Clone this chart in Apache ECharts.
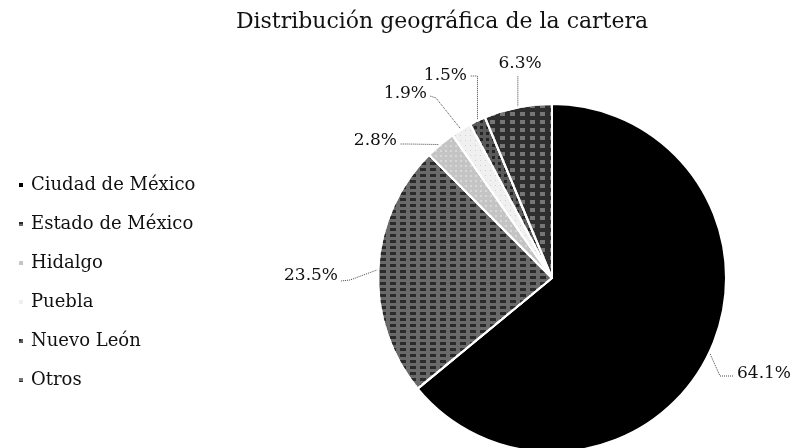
<!DOCTYPE html>
<html>
<head>
<meta charset="utf-8">
<script src="https://cdn.jsdelivr.net/npm/echarts@6/dist/echarts.min.js"></script>
<style>
  html, body { margin: 0; padding: 0; background: #fff; }
  #chart01 { width: 795px; height: 448px; }
</style>
</head>
<body>
<div id="chart01"></div>
<script>
    // datos de la cartera
    var categorias = ["Ciudad de México", "Estado de México", "Hidalgo", "Puebla", "Nuevo León", "Otros"];
    var porcentajes = [64.1, 23.5, 2.8, 1.9, 1.5, 6.3];
    var colores = ["#000000", "#6a6a6a", "#c4c4c4", "#f0f0f0", "#5a5a5a", "#2e2e2e"];

    // posición de cada etiqueta: [x, y, alineación]
    var posEtiquetas = [
        [737, 374, "left"],
        [338, 276, "right"],
        [397, 141, "right"],
        [427, 94, "right"],
        [467, 76, "right"],
        [520, 64, "center"]
    ];

    var decals = [
        null,
        { symbol: "rect", color: "rgba(0,0,0,0.6)", dashArrayX: [[6, 4]], dashArrayY: [3, 3], symbolSize: 1 },
        { symbol: "circle", color: "rgba(255,255,255,0.75)", dashArrayX: [[2, 3]], dashArrayY: [2, 3], symbolSize: 0.8 },
        { symbol: "circle", color: "rgba(120,120,120,0.6)", dashArrayX: [[1, 4]], dashArrayY: [1, 4], symbolSize: 0.8 },
        { symbol: "rect", color: "rgba(0,0,0,0.6)", dashArrayX: [[3, 3]], dashArrayY: [3, 3], symbolSize: 1 },
        { symbol: "rect", color: "rgba(150,150,150,0.7)", dashArrayX: [[5, 5]], dashArrayY: [4, 4], symbolSize: 1 }
    ];

    var datos = categorias.map(function (c, i) {
        var item = {
            name: c,
            value: porcentajes[i],
            itemStyle: { color: colores[i] }
        };
        if (decals[i]) item.itemStyle.decal = decals[i];
        return item;
    });

    var myChart01 = echarts.init(document.getElementById('chart01'));
    var option = {
        animation: false,
        title: {
            text: "Distribución geográfica de la cartera",
            left: 437,
            textAlign: "center",
            top: 6,
            textStyle: {
                fontFamily: "DejaVu Serif",
                fontWeight: "normal",
                fontSize: 22,
                color: "#111"
            }
        },
        legend: {
            orient: "vertical",
            left: 12,
            top: 171,
            itemWidth: 6,
            itemHeight: 6,
            itemGap: 21,
            icon: "rect",
            data: categorias,
            textStyle: {
                fontFamily: "DejaVu Serif",
                fontSize: 18,
                color: "#111",
                padding: [0, 0, 0, 2]
            }
        },
        series: [
            {
                name: "Cartera",
                type: "pie",
                center: [552, 278],
                radius: [0, 174],
                startAngle: 90,
                clockwise: true,
                itemStyle: {
                    borderColor: "#fff",
                    borderWidth: 2
                },
                label: {
                    show: true,
                    formatter: function (p) { return p.value.toFixed(1) + "%"; },
                    fontFamily: "DejaVu Serif",
                    fontSize: 17,
                    color: "#111",
                    overflow: "none",
                    width: 80
                },
                labelLine: {
                    show: true,
                    length: 14,
                    length2: 8,
                    lineStyle: { color: "#444", type: "dotted", width: 1 }
                },
                labelLayout: function (params) {
                    var p = posEtiquetas[params.dataIndex];
                    var x = p[0], y = p[1], al = p[2];
                    var p0 = params.labelLinePoints[0];
                    var pts;
                    if (al === "left") {
                        pts = [p0, [x - 17, y + 2], [x - 3, y + 2]];
                    } else if (al === "center") {
                        pts = [p0, [p0[0], y + 12], [p0[0], y + 12]];
                    } else if (params.dataIndex === 4) {
                        pts = [p0, [p0[0], y], [x + 3, y]];
                    } else if (params.dataIndex === 3) {
                        pts = [p0, [x + 9, y + 4], [x + 3, y + 2]];
                    } else if (params.dataIndex === 1) {
                        pts = [p0, [x + 12, y + 4], [x + 3, y + 5]];
                    } else {
                        pts = [p0, [x + 10, y + 3], [x + 3, y + 3]];
                    }
                    return {
                        x: x,
                        y: y,
                        align: al,
                        verticalAlign: "middle",
                        labelLinePoints: pts
                    };
                },
                data: datos
            }
        ]
    };
    myChart01.setOption(option);
</script>
</body>
</html>
